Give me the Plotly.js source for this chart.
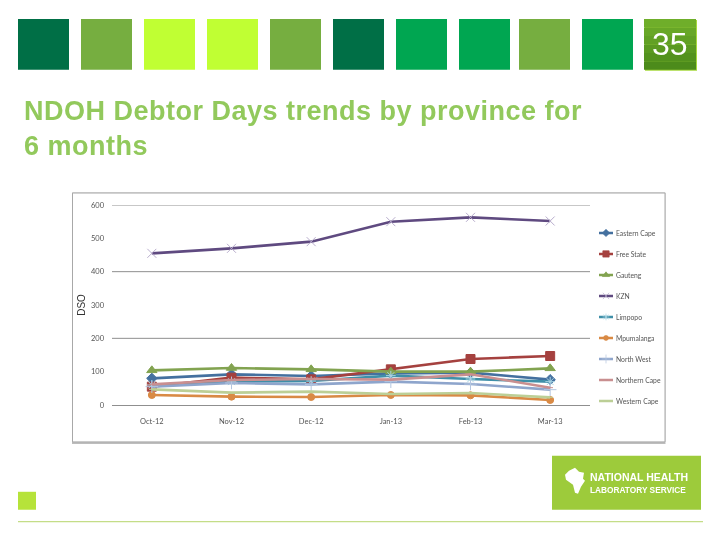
<!DOCTYPE html>
<html><head><meta charset="utf-8">
<script src="https://cdn.plot.ly/plotly-3.0.1.min.js"></script>
<style>html,body{margin:0;padding:0;background:#fff}#c{width:720px;height:540px;filter:blur(0.35px)}
#c .gtitle{letter-spacing:.5px}</style>
</head><body><div id="c"></div>
<script>
const months=["Oct-12","Nov-12","Dec-12","Jan-13","Feb-13","Mar-13"];
const easternCape=[80,92,87,95,97,76];
const freeState=[55,82,77,107,138,147];
const gauteng=[104,111,107,100,100,110];
const kzn=[455,470,490,550,563,552];
const limpopo=[60,70,72,88,78,70];
const mpumalanga=[30,25,24,30,29,15];
const northWest=[55,66,62,70,63,46];
const northernCape=[62,75,78,76,92,52];
const westernCape=[47,37,40,33,36,23];
const names=["Eastern Cape","Free State","Gauteng","KZN","Limpopo","Mpumalanga","North West","Northern Cape","Western Cape"];
const colors=["#44709f","#a5413f","#82a350","#5f4a80","#3f8fa8","#d98a45","#8ea5cc","#c98f90","#bccf96"];
const markerColors=["#44709f","#a5413f","#82a350","#b9aecd","#a9d6e4","#d98a45","#b4c6e0","#c98f90","#bccf96"];
const symbols=["diamond","square","triangle-up","x-thin","asterisk","circle","cross-thin","line-ew","line-ew"];
const sizes=[8,9,9,9,8,7,9,4,4];
const seriesValues=[easternCape,freeState,gauteng,kzn,limpopo,mpumalanga,northWest,northernCape,westernCape];
const yTicks=[0,100,200,300,400,500,600];
const gridValues=[200,400,600];
const squares=[[18,"#006f46"],[81,"#76ae40"],[144,"#c0ff33"],[207,"#c0ff33"],[270,"#76ae40"],[333,"#006f46"],[396,"#00a651"],[459,"#00a651"],[519,"#76ae40"],[582,"#00a651"]];

const L=112,R=590,T=204.5,B=405;
const px=x=>(x-L)/(R-L), py=y=>(B-y)/(B-T);
const box=(x0,y0,x1,y1,fill,line)=>({type:"rect",xref:"paper",yref:"paper",layer:"below",
  x0:px(x0),x1:px(x1),y0:py(y1),y1:py(y0),fillcolor:fill,line:line||{width:0}});
const shapes=[];
squares.forEach(s=>shapes.push(box(s[0],18,s[0]+51,69,s[1])));
shapes.push(box(645,19,697,70,"#a6d83e"));
const badge=["#6fae2a","#68a727","#61a024","#5a9921","#53921e","#4c8b1b"];
badge.forEach((c,i)=>shapes.push(box(644,18+i*8.5,696,18+(i+1)*8.5,c)));
shapes.push(box(72,192,665.5,444,"#bdbdbd"));
shapes.push(box(72.5,192.5,665,442,"#ffffff",{width:1,color:"#a8a8a8"}));
shapes.push(box(552,456,701,510,"#9dcb3b"));
shapes.push(box(18,492,36,510,"#b6e33a"));
shapes.push({type:"line",xref:"paper",yref:"paper",layer:"below",x0:px(18),x1:px(703),y0:py(522),y1:py(522),line:{width:1,color:"#b5d56a"}});
gridValues.forEach(v=>shapes.push({type:"line",xref:"paper",yref:"y",layer:"below",x0:0,x1:1,y0:v,y1:v,line:{width:1,color:"#8f8f8f"}}));
const africa=[[569,471],[575,468],[579,472],[584,473],[583,479],[585,481],[581,487],[578,494],[575,493],[573,485],[566,480],[565,475]];
shapes.push({type:"path",xref:"paper",yref:"paper",fillcolor:"#ffffff",line:{width:0},
  path:africa.map((p,i)=>(i?"L":"M")+px(p[0])+","+py(p[1])).join("")+"Z"});

const note=(x,y,text,size,color,opts)=>Object.assign({xref:"paper",yref:"paper",x:px(x),y:py(y),text,showarrow:false,
  xanchor:"left",yanchor:"middle",align:"left",font:{size,color,family:"Liberation Sans"}},opts||{});
const annotations=[
  note(670,43,"35",32,"#ffffff",{xanchor:"center"}),
  note(588,477,"<b>NATIONAL HEALTH</b>",10.5,"#ffffff"),
  note(588,490,"<b>LABORATORY SERVICE</b>",8.3,"#ffffff")
];

const traces=names.map((n,i)=>({type:"scatter",mode:"lines+markers",name:n,legendgroup:n,x:months,y:seriesValues[i],
  line:{color:colors[i],width:2.6},
  marker:{symbol:symbols[i],size:sizes[i],color:markerColors[i],line:{color:markerColors[i],width:1}}}));

Plotly.newPlot("c",traces,{
  width:720,height:540,
  margin:{l:L,r:720-R,t:T,b:540-B,pad:0},
  paper_bgcolor:"#ffffff",plot_bgcolor:"rgba(0,0,0,0)",
  font:{family:"Lato",size:8,color:"#555555"},
  title:{text:"<b>NDOH Debtor Days trends by province for<br>6 months</b>",x:24/720,xanchor:"left",xref:"container",
    y:1-120/540,yanchor:"top",pad:{t:0},font:{family:"Liberation Sans",size:27,color:"#92c95c"}},
  xaxis:{type:"category",range:[-0.5,5.5],showgrid:false,showline:true,linecolor:"#8f8f8f",linewidth:1,ticks:"",
    tickfont:{size:7.5,color:"#555555"},ticklabelstandoff:9},
  yaxis:{range:[0,600],tickvals:yTicks,showgrid:false,zeroline:false,showline:false,ticks:"",
    tickfont:{size:7.5,color:"#555555"},ticklabelstandoff:7,
    title:{text:"DSO",standoff:3,font:{size:10,color:"#333333",family:"Liberation Sans"}}},
  legend:{x:px(586),xanchor:"left",y:py(218),yanchor:"top",bgcolor:"rgba(0,0,0,0)",traceorder:"grouped",
    tracegroupgap:2,itemwidth:30,font:{size:8,color:"#555555"},itemclick:false},
  shapes,annotations,showlegend:true
},{displayModeBar:false,staticPlot:true}).then(gd=>{
  gd.querySelectorAll(".legendlines path").forEach(p=>p.setAttribute("d","M13,0h14"));
  gd.querySelectorAll(".legendpoints path").forEach(p=>p.setAttribute("transform",(p.getAttribute("transform")||"")+" scale(.7)"));
  gd.querySelectorAll(".legendtext").forEach(t=>{t.setAttribute("x","35.3");t.setAttribute("transform","scale(.85,1)");});
});
</script></body></html>
